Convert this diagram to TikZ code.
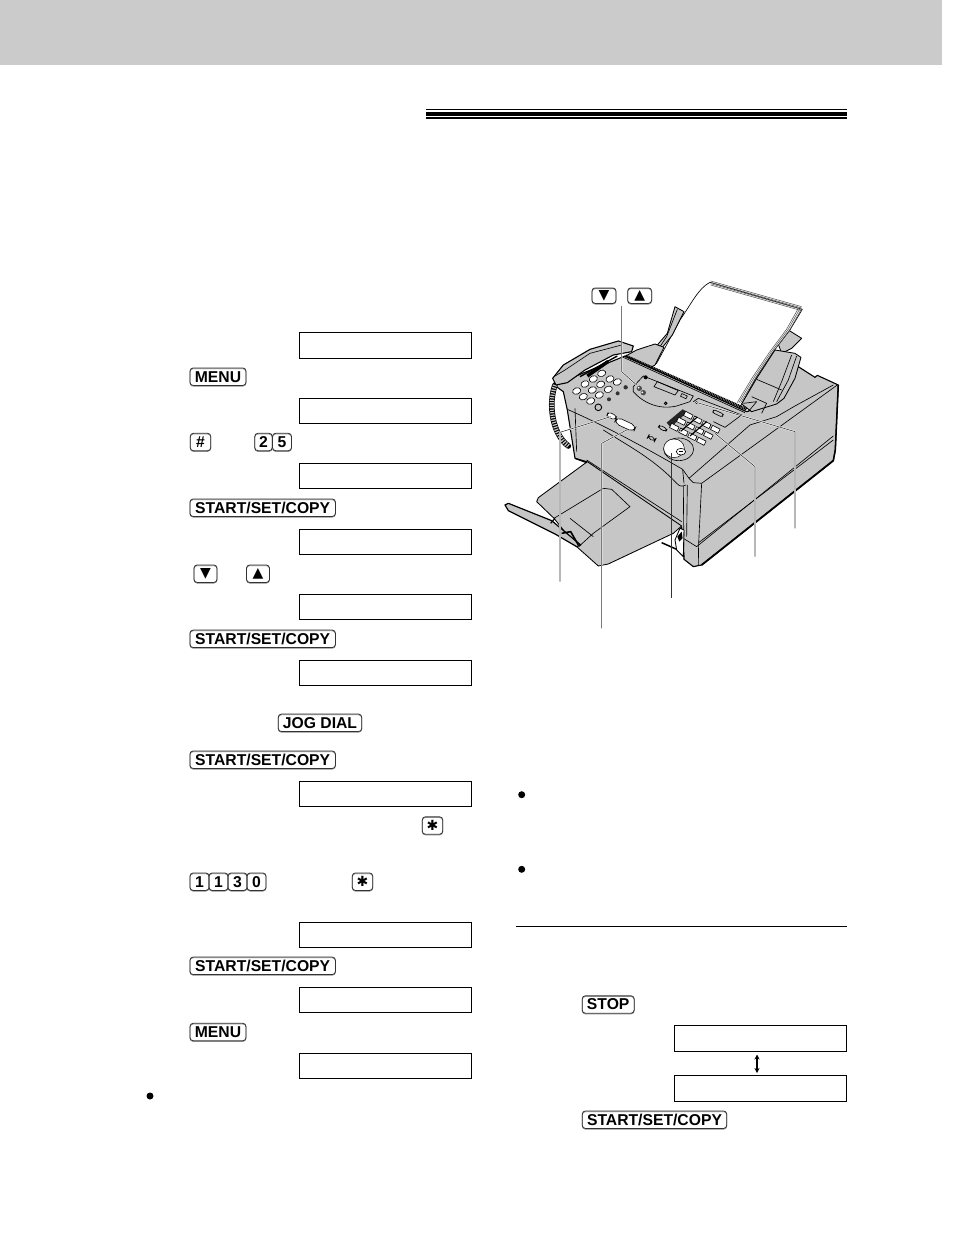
\documentclass[tikz,border=0pt]{standalone}
\usepackage{fontspec}
\usetikzlibrary{arrows.meta}
\setmainfont{Liberation Sans}
\newfontfamily\symfont{DejaVu Sans}
\definecolor{hdr}{HTML}{CBCBCB}
\definecolor{faxg}{HTML}{C6C6C6}
\tikzset{
 keycap/.style={draw=black!80,line width=.8pt,rounded corners=3.2pt,inner sep=0pt,anchor=center,
   font=\fontsize{15.7}{15.7}\selectfont\bfseries,
   preaction={draw=black!45,line width=.8pt,transform canvas={yshift=-.7pt}}},
 lcd/.style={draw=black,line width=1pt,fill=white,anchor=north west,inner sep=0pt},
 body/.style={fill=faxg,draw=black,line width=.85pt,line join=round},
 thin/.style={draw=black,line width=.65pt,line join=round},
 wbtn/.style={fill=white,draw=black,line width=.6pt},
 halo/.style={draw=white,line width=1.6pt,line join=round},
 leader/.style={draw=black!80,line width=.6pt,line join=round},
}
\newcommand{\lcdbox}[3]{\node[lcd,minimum width=#2 pt,minimum height=25.2pt] (#1) at #3 {};}
\newcommand{\kc}[5]{\node[keycap,minimum width=#3 pt,minimum height=#4 pt] (#1) at #2 {#5};}
\begin{document}
\begin{tikzpicture}[x=1pt,y=-1pt]
\useasboundingbox (0,0) rectangle (954,1235);
\fill[white] (0,0) rectangle (954,1235);
\fill[hdr] (0,0) rectangle (942,65);
% title rules
\fill[black] (426,109) rectangle (847,110.3);
\fill[black] (426,112) rectangle (847,115.7);
\fill[black] (426,117.2) rectangle (847,119.4);
% lcd boxes left
\foreach \n/\y in {a/332.3,b/397.5,c/463,d/528.5,e/594,f/659.5,g/781,h/921.5,i/986.7,j/1052.5}{
  \lcdbox{lcd\n}{171.8}{(299.3,\y)}
}
\lcdbox{lcdk}{172}{(674.3,1025.3)}
\lcdbox{lcdl}{172}{(674.3,1075.3)}
\coordinate (arrU) at (757,1054.5);
\coordinate (arrD) at (757,1073);
\draw[line width=1.1pt,{Stealth[length=5pt,width=5pt]}-{Stealth[length=5pt,width=5pt]}] (arrU) -- (arrD);
% keys left
\kc{menuA}{(218,376.7)}{56}{17.5}{MENU}
\kc{hash}{(200.5,442)}{20.5}{17.5}{\#}
\kc{two}{(263.5,442)}{17.5}{17.5}{2}
\kc{five}{(282,442)}{19}{17.5}{5}
\kc{startA}{(262.7,507.7)}{145.5}{17.5}{START/SET/COPY}
\kc{downA}{(205.5,573.7)}{23}{17.5}{\symfont\fontsize{14}{14}\selectfont ▼}
\kc{upA}{(258,573.7)}{23}{17.5}{\symfont\fontsize{14}{14}\selectfont ▲}
\kc{startB}{(262.7,638.8)}{145.5}{17.5}{START/SET/COPY}
\kc{jog}{(320,722.8)}{83.5}{17.5}{JOG DIAL}
\kc{startC}{(262.7,759.7)}{145.5}{17.5}{START/SET/COPY}
\kc{starA}{(432.5,825.5)}{20.5}{17.5}{\symfont\fontsize{14}{14}\selectfont ✱}
\kc{n1}{(199.5,881.7)}{19}{17.5}{1}
\kc{n2}{(218.5,881.7)}{19}{17.5}{1}
\kc{n3}{(237.5,881.7)}{19}{17.5}{3}
\kc{n4}{(256.5,881.7)}{19}{17.5}{0}
\kc{starB}{(362.5,881.7)}{20.5}{17.5}{\symfont\fontsize{14}{14}\selectfont ✱}
\kc{startD}{(262.7,965.8)}{145.5}{17.5}{START/SET/COPY}
\kc{menuB}{(218,1032)}{56}{17.5}{MENU}
% keys right
\kc{stopK}{(608.2,1004.5)}{52}{17.5}{STOP}
\kc{startE}{(654.5,1119.7)}{144.5}{17.5}{START/SET/COPY}
% bullets
\fill (150,1096) circle (3.5);
\fill (521.7,794.7) circle (3.5);
\fill (521.7,869.3) circle (3.5);
\draw[line width=.9pt] (516,926.3) -- (847,926.3);
% FAX drawing, in crop coordinates
\begin{scope}[shift={(480,270)},x=.3333pt,y=-.3333pt]
 \kc{downT}{(372,77)}{24}{15.5}{\symfont\fontsize{14}{14}\selectfont ▼}
 \kc{upT}{(479,77)}{24}{15.5}{\symfont\fontsize{14}{14}\selectfont ▲}
 % rear extension
 \path[body] (885,195) -- (925,180) -- (965,205) -- (935,235) -- (905,250) -- cycle;
 % paper
 \path[fill=white,thin] (690,37) -- (967,118) -- (930,180) -- (880,245) -- (830,320) -- (775,420) -- (500,300) -- (530,280) -- (600,150) .. controls (635,100) and (655,55) .. (690,37) -- cycle;
 \foreach \d in {0,4,8,12}{
   \draw[draw=black!65,line width=.55pt] (692,{33+\d}) -- (965,{110+\d});
 }
 \foreach \d in {0,4,8}{
   \draw[draw=black!65,line width=.55pt] ({965-\d*1.3},{116}) -- ({930-\d*1.3},178) -- ({878-\d*1.3},248) -- ({828-\d*1.3},322) -- ({782-\d*1.3},398);
 }
 % left paper guide
 \path[body] (585,110) -- (612,125) -- (577,195) -- (545,235) -- (515,278) -- (492,270) -- (532,225) -- (562,190) -- cycle;
 \draw[thin] (592,118) -- (560,200) -- (530,245);
 % feeder left
 \path[body] (430,262) -- (470,240) -- (525,222) -- (552,232) -- (525,285) -- (500,300) -- cycle;
 % main silhouette
 \path[body,line width=1.1pt] (222,345) -- (435,258) -- (800,425) -- (885,395) -- (955,290) -- (1005,322) -- (1012,316) -- (1075,345) -- (1066,540) -- (1060,572) -- (665,885) -- (640,890) -- (612,868) -- (605,772) -- (320,575) -- (285,565) -- (262,420) -- (250,365) -- cycle;
 % right guide
 \path[body] (885,240) -- (945,250) -- (963,262) -- (945,325) -- (912,385) -- (890,402) -- (815,425) -- (785,402) -- (830,325) -- cycle;
 \draw[thin] (830,328) -- (905,360);
 \draw[thin] (950,258) -- (925,330) -- (890,395);
 \draw[thin] (935,255) -- (905,335) -- (880,395);
 \draw[thin] (815,380) -- (860,400) -- (845,430);
 \draw[thin] (790,400) -- (830,395) -- (805,425);
 % right block
 \draw[thin] (627,625) -- (810,465) -- (890,440) -- (945,408) -- (1060,345);
 \draw[thin] (627,625) -- (640,638) -- (665,640) -- (1072,345);
 \draw[thin] (665,640) -- (656,820) -- (655,885);
 \draw[thin] (610,805) -- (650,830) -- (1060,498);
 \draw[thin] (656,818) -- (1060,510);
 \draw[line width=1.8pt] (665,885) -- (1060,572);
 \draw[line width=1.5pt] (1060,572) -- (1066,540) -- (1075,345);
 % top panel front edge
 \draw[thin] (262,418) .. controls (380,470) and (500,535) .. (608,598);
 \draw[thin] (608,598) -- (627,625);
 \draw[thin] (608,598) -- (612,640);
 \draw[thin] (285,415) -- (290,545);
 \draw[thin] (370,480) .. controls (440,525) and (520,565) .. (590,640) .. controls (600,650) and (605,650) .. (618,645);
 \draw[thin] (610,648) -- (612,868);
 \draw[thin] (622,645) -- (620,800);
 \draw[thin] (320,570) -- (605,755);
 % output tray
 \path[body] (322,575) -- (175,683) -- (170,695) -- (222,745) -- (290,830) -- (355,888) -- (385,882) -- (580,790) -- (605,768) -- cycle;
 \draw[thin] (222,745) -- (370,655) -- (395,658) -- (450,710) -- (340,790) -- (296,830);
 \draw[thin] (270,745) -- (340,800);
 \draw[line width=1.3pt] (285,565) -- (320,578);
 \draw[line width=1.5pt] (545,818) -- (590,838) -- (612,860);
 \path[body,fill=white] (585,810) -- (600,775) -- (612,780) -- (610,860) -- (590,840) -- cycle;
 \fill (592,800) -- (605,785) -- (608,805) -- (598,815) -- cycle;
 % flap
 \path[body,line width=1.2pt] (75,705) -- (85,700) -- (215,752) -- (302,825) -- (290,830) -- (225,792) -- (85,722) -- cycle;
 \draw[line width=1.6pt] (245,790) -- (272,785) -- (295,825);
 \draw[line width=1.2pt] (225,745) -- (212,760);
 % cord
 \draw[line width=5.6pt,line cap=round] (225,345) .. controls (205,400) and (215,490) .. (265,528);
 \draw[faxg,line width=4.4pt,dash pattern=on 1.2pt off 1.3pt] (225,345) .. controls (205,400) and (215,490) .. (265,528);
 % handset
 \path[body,line width=1.1pt] (218,325) -- (250,285) -- (330,238) -- (415,213) -- (460,228) -- (455,245) -- (400,255) -- (315,300) -- (262,338) -- (228,345) -- cycle;
 \draw[thin] (225,318) -- (255,300) -- (330,250) -- (425,225);
 % speaker strip
 \draw[line width=3.4pt] (322,318) -- (385,274);
 \draw[line width=1.4pt] (300,320) -- (412,258);
 % roller strip
 \draw[line width=2.8pt,dash pattern=on 1.1pt off .6pt] (437,258) -- (800,418);
 \draw[thin] (430,262) -- (795,428);
 % rear panel
 \draw[thin] (640,395) -- (655,385) -- (785,435) -- (735,472) -- (700,455);
 % control panel
 \path[draw=black,line width=.65pt] (460,350) -- (490,318) -- (640,378) -- (630,395) -- (590,408) .. controls (540,420) and (490,400) .. (460,365) -- cycle;
 \draw[thin] (522,350) -- (532,335) -- (595,362) -- (585,375) -- cycle;
 \draw[wbtn,fill=faxg,rotate around={-25:(612,378)}] (603,374) rectangle (621,383);
 \fill (497,322) circle (6);
 \draw[line width=.9pt] (557,400) circle (4);
 \fill[black!70] (478,355) circle (8);
 \fill[black!70] (490,368) circle (8);
 \fill[white] (476,353) circle (3) (487,367) circle (3);
 \fill[white] (470,345) circle (2);
 \fill[white,draw=black] (650,398) circle (3.5);
 \draw[wbtn,fill=faxg,rotate around={-25:(714,430)},rounded corners=2pt] (698,425) rectangle (730,435);
 % keypad
 \foreach \x/\y in {365/310,340/327,315/342,290/363,390/327,362/343,337/360,310/380,412/336,385/358,358/375,332/393}{
   \draw[wbtn,rotate around={20:(\x,\y)}] (\x,\y) ellipse (12.5 and 9.5);
 }
 \fill[black!80] (437,352) circle (6.5) (413,370) circle (6) (387,388) circle (6);
 \draw[wbtn,fill=faxg,line width=.9pt] (355,412) circle (10);
 % white keys
 \draw[wbtn,rotate around={-25:(395,438)},rounded corners=3pt] (381,431) rectangle (409,445);
 \draw[wbtn,rotate around={-25:(435,463)},rounded corners=5pt] (404,453) rectangle (468,473);
 \draw[thin,rotate around={-28:(515,505)},rounded corners=4pt] (503,500) rectangle (527,510);
 \draw[thin,rotate around={-28:(548,475)},rounded corners=3pt] (535,470) rectangle (561,480);
 % one-touch array
 \fill[black!85] (560,458) -- (608,418) -- (622,426) -- (572,472) -- cycle;
 \foreach \i in {0,1,2,3}{\foreach \j in {0,1,2}{
   \pgfmathsetmacro{\cx}{625+\i*27-\j*21}
   \pgfmathsetmacro{\cy}{436+\i*14+\j*18}
   \draw[wbtn,rotate around={-27:(\cx,\cy)}] ({\cx-12.5},{\cy-7}) rectangle ({\cx+12.5},{\cy+7});
 }}
 \draw[line width=1.2pt] (652,441) -- (602,484);
 \draw[line width=1.2pt] (680,455) -- (630,498);
 % jog dial
 \path[wbtn,fill=faxg] (596,538) ellipse (45 and 34);
 \path[fill=white,draw=black,line width=.5pt] (582,535) ellipse (31 and 28);
 \draw[wbtn] (603,545) ellipse (14 and 10);
 \draw[thin] (597,545) -- (609,545);
 % leader coordinates
 \coordinate (lA) at (470,345); \coordinate (lAa) at (425,305); \coordinate (lAb) at (425,108);
 \coordinate (lB) at (392,440); \coordinate (lBa) at (240,487); \coordinate (lBb) at (240,935);
 \coordinate (lC) at (440,480); \coordinate (lCa) at (365,520); \coordinate (lCb) at (365,1075);
 \coordinate (lD) at (575,550); \coordinate (lDb) at (575,983);
 \coordinate (lE) at (705,490); \coordinate (lEa) at (825,590); \coordinate (lEb) at (825,860);
 \coordinate (lF) at (652,398); \coordinate (lFa) at (945,485); \coordinate (lFb) at (945,775);
 \foreach \s in {halo,leader}{
   \draw[\s] (lA) -- (lAa) -- (lAb);
   \draw[\s] (lB) -- (lBa) -- (lBb);
   \draw[\s] (lC) -- (lCa) -- (lCb);
   \draw[\s] (lD) -- (lDb);
   \draw[\s] (lE) -- (lEa) -- (lEb);
   \draw[\s] (lF) -- (lFa) -- (lFb);
 }
\end{scope}
\end{tikzpicture}
\end{document}
